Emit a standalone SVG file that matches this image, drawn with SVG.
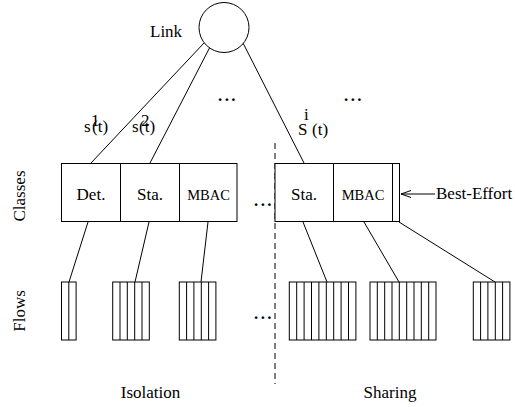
<svg xmlns="http://www.w3.org/2000/svg" width="515" height="407" viewBox="0 0 515 407" font-family="Liberation Serif, Times New Roman, DejaVu Serif, serif">
<defs>
<style>
text{font-family:'Liberation Serif','Times New Roman','DejaVu Serif',serif}
.t{font-size:17px;fill:#000}
.sm{font-size:14.5px}
.dots{font-size:17px;font-weight:bold;letter-spacing:2.4px}
.s{fill:#fff;stroke:#000;stroke-width:1}
.ln{stroke:#000;stroke-width:1;fill:none}
.dash{stroke:#000;stroke-width:1;stroke-dasharray:6,4}
</style>
<marker id="open" markerUnits="userSpaceOnUse" markerWidth="12" markerHeight="9" refX="11" refY="4" orient="auto">
<path d="M1,0.5 L11,4 L1,7.5" fill="none" stroke="#000" stroke-width="1"/>
</marker>
</defs>
<rect width="515" height="407" fill="#fff"/>

<g id="connectors" class="ln">
<line x1="204" y1="43" x2="91" y2="163"/>
<line x1="210" y1="47" x2="150" y2="163"/>
<line x1="243" y1="43" x2="304" y2="163"/>
<line x1="88" y1="222" x2="69" y2="282"/>
<line x1="149" y1="222" x2="135" y2="282"/>
<line x1="208" y1="222" x2="201" y2="282"/>
<line x1="303" y1="222" x2="327" y2="282"/>
<line x1="364" y1="222" x2="399" y2="282"/>
<line x1="399" y1="222" x2="495" y2="282"/>
<line x1="435" y1="194" x2="401" y2="194" marker-end="url(#open)"/>
</g>

<line class="dash" x1="275" y1="143" x2="275" y2="384"/>

<g id="link">
<circle class="s" cx="224" cy="27.5" r="25"/>
<text class="t" x="150" y="37">Link</text>
</g>

<g id="labels">
<text class="t" x="84" y="132">s</text>
<text class="t" x="91" y="126">1</text>
<text class="t" x="92" y="132">(t)</text>
<text class="t" x="132" y="132">s</text>
<text class="t" x="141" y="126">2</text>
<text class="t" x="139" y="132">(t)</text>
<text class="t" x="298" y="135" font-size="20">S</text>
<text class="t" x="304" y="119.5">i</text>
<text class="t" x="312" y="135">(t)</text>
<text class="t dots" x="218" y="101">...</text>
<text class="t dots" x="344" y="101">...</text>
<text class="t dots" x="254" y="206">...</text>
<text class="t dots" x="254" y="319">...</text>
<text class="t" x="436" y="199">Best-Effort</text>
<text class="t" transform="translate(25,196) rotate(-90)" text-anchor="middle">Classes</text>
<text class="t" transform="translate(25,311) rotate(-90)" text-anchor="middle">Flows</text>
<text class="t" x="150.5" y="398" text-anchor="middle">Isolation</text>
<text class="t" x="390" y="398" text-anchor="middle">Sharing</text>
</g>

<g id="class-det"><rect class="s" x="61.5" y="163.5" width="59" height="58"/><text class="t" x="91" y="200" text-anchor="middle">Det.</text></g>
<g id="class-sta1"><rect class="s" x="120.5" y="163.5" width="59" height="58"/><text class="t" x="150" y="200" text-anchor="middle">Sta.</text></g>
<g id="class-mbac1"><rect class="s" x="179.5" y="163.5" width="57.5" height="58"/><text class="t sm" x="208.5" y="200" text-anchor="middle">MBAC</text></g>
<g id="class-sta2"><rect class="s" x="275" y="163.5" width="58.5" height="58"/><text class="t" x="304" y="200" text-anchor="middle">Sta.</text></g>
<g id="class-mbac2"><rect class="s" x="333.5" y="163.5" width="59" height="58"/><text class="t sm" x="363" y="200" text-anchor="middle">MBAC</text></g>
<g id="class-be"><rect class="s" x="392.5" y="163.5" width="7" height="58"/></g>

<g id="flows1"><rect class="s" x="61.5" y="282" width="14.6" height="58"/><path class="ln" d="M68.8,282V340"/></g>
<g id="flows2"><rect class="s" x="112.7" y="282" width="36.6" height="58"/><path class="ln" d="M120,282V340M127.3,282V340M134.7,282V340M142,282V340"/></g>
<g id="flows3"><rect class="s" x="179.3" y="282" width="36.6" height="58"/><path class="ln" d="M186.6,282V340M193.9,282V340M201.3,282V340M208.6,282V340"/></g>
<g id="flows4"><rect class="s" x="289.3" y="282" width="66.6" height="58"/><path class="ln" d="M296.7,282V340M304.1,282V340M311.5,282V340M318.9,282V340M326.3,282V340M333.7,282V340M341.1,282V340M348.5,282V340"/></g>
<g id="flows5"><rect class="s" x="370" y="282" width="66" height="58"/><path class="ln" d="M377.3,282V340M384.7,282V340M392,282V340M399.3,282V340M406.7,282V340M414,282V340M421.3,282V340M428.7,282V340"/></g>
<g id="flows6"><rect class="s" x="473.3" y="282" width="36.6" height="58"/><path class="ln" d="M480.6,282V340M487.9,282V340M495.3,282V340M502.6,282V340"/></g>
</svg>
